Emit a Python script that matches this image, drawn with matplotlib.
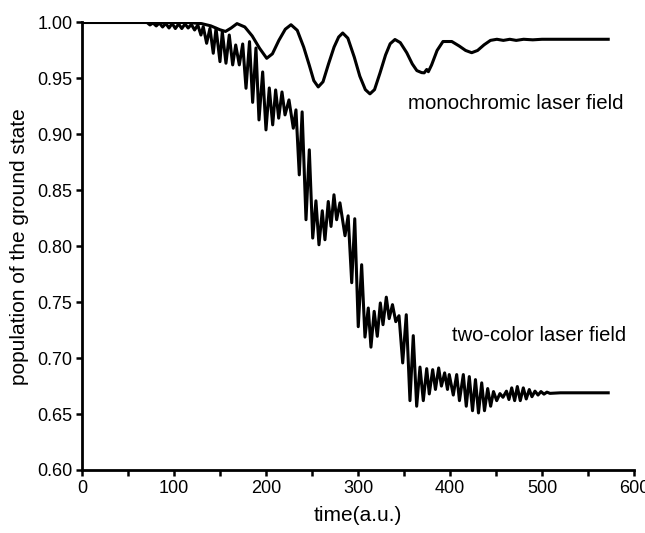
import numpy as np
import matplotlib
matplotlib.use("Agg")
import matplotlib.pyplot as plt
from matplotlib.ticker import MultipleLocator

plt.rcParams['font.family'] = ['Liberation Sans', 'DejaVu Sans']

# monochromic laser field (time a.u., population)
mono_t = [0, 115, 130, 140, 150, 156, 162, 168.5, 177, 185, 193, 200.8, 207, 214, 221, 227.2,
          234, 241, 247, 252, 256.8, 262, 268, 274, 279, 283.4, 289, 296, 302, 308, 313,
          318, 324, 330, 335, 340.2, 346, 353, 359, 364, 369.2, 372, 374.7, 376.5, 380, 386,
          392.4, 402, 410, 417, 423.6, 430, 437, 444, 451, 458, 465, 472, 480, 490, 500, 572]
mono_p = [1.0, 1.0, 0.999, 0.997, 0.9935, 0.992, 0.995, 0.999, 0.996, 0.988, 0.977, 0.968,
          0.972, 0.984, 0.994, 0.998, 0.993, 0.978, 0.962, 0.948, 0.9424, 0.947, 0.963, 0.978,
          0.987, 0.9906, 0.986, 0.969, 0.952, 0.940, 0.9362, 0.940, 0.955, 0.971, 0.981, 0.9848,
          0.982, 0.973, 0.963, 0.957, 0.9552, 0.955, 0.958, 0.956, 0.962, 0.975, 0.983, 0.983,
          0.979, 0.975, 0.973, 0.975, 0.980, 0.984, 0.985, 0.984, 0.985, 0.984, 0.985, 0.9845,
          0.985, 0.985]

# two-color laser field, peaks and troughs
tc_t = [0, 70.7, 73.9, 77.2, 80.7, 84.1, 87.6, 91.1, 94.6, 98.0, 101.5, 105.0, 108.5, 112.0,
        115.4, 118.9, 122.4, 125.9, 129.3, 131.8, 135.5, 139.1, 142.7, 145.7, 150.0, 152.5,
        156.5, 160.1, 163.8, 167.1, 171.0, 174.7, 178.3, 182.1, 185.5, 189.1, 192.4, 196.4,
        200.0, 203.6, 207.3, 210.5, 213.8, 217.4, 220.7, 225.0, 229.7, 232.6, 236.2, 239.3,
        243.5, 247.1, 250.8, 254.3, 257.6, 261.2, 264.1, 267.7, 270.7, 273.9, 276.8, 280.4,
        285.9, 289.3, 293.2, 296.5, 300.3, 304.0, 307.6, 311.2, 314.1, 317.6, 321.0, 324.3,
        327.2, 330.8, 333.9, 337.5, 341.1, 344.6, 348.6, 352.5, 356.5, 360.1, 363.8, 367.4,
        371.0, 374.7, 377.5, 381.2, 384.2, 387.7, 390.7, 394.2, 397.3, 399.2, 403.6, 407.3,
        410.3, 414.5, 417.7, 421.0, 424.5, 427.7, 431.0, 434.5, 437.5, 441.0, 444.2, 447.3,
        450.8, 454.3, 457.6, 461.4, 464.1, 467.1, 470.3, 473.2, 476.4, 479.7, 482.9, 486.2,
        489.1, 492.4, 495.7, 498.9, 502.2, 505.4, 508.7, 520, 572]
tc_p = [1.0, 1.0, 0.9978, 0.9996, 0.9969, 0.9996, 0.9960, 0.9991, 0.9951, 0.9991, 0.9946,
        0.9987, 0.9946, 0.9987, 0.9951, 0.9982, 0.9933, 0.9978, 0.9888, 0.9963, 0.9814,
        0.9948, 0.9725, 0.9948, 0.9650, 0.9918, 0.9636, 0.9888, 0.9621, 0.9799, 0.9621,
        0.9808, 0.9412, 0.9829, 0.9286, 0.9772, 0.9129, 0.9558, 0.9040, 0.9415, 0.9085,
        0.9397, 0.9145, 0.9379, 0.9174, 0.9308, 0.9055, 0.9219, 0.8638, 0.9201, 0.8237,
        0.8862, 0.8073, 0.8406, 0.8013, 0.8317, 0.8058, 0.8400, 0.8177, 0.8460, 0.8237,
        0.8388, 0.8094, 0.8272, 0.7674, 0.8246, 0.7281, 0.7835, 0.7188, 0.7448, 0.7098,
        0.7418, 0.7195, 0.7493, 0.7299, 0.7545, 0.7353, 0.7478, 0.7326, 0.7379, 0.6957,
        0.7388, 0.6620, 0.7201, 0.6570, 0.6920, 0.6620, 0.6906, 0.6680, 0.6897, 0.6720,
        0.6912, 0.6750, 0.6868, 0.6720, 0.6853, 0.6670, 0.6853, 0.6620, 0.6853, 0.6570,
        0.6835, 0.6530, 0.6808, 0.6510, 0.6779, 0.6530, 0.6728, 0.6570, 0.6701, 0.6620,
        0.6683, 0.6650, 0.6705, 0.6630, 0.6734, 0.6620, 0.6746, 0.6620, 0.6734, 0.6635,
        0.6719, 0.6655, 0.6705, 0.6670, 0.6701, 0.6678, 0.6696, 0.6685, 0.6690, 0.6690]

fig = plt.figure(figsize=(6.45, 5.33), dpi=100)
ax = fig.add_axes([0.1271, 0.1182, 0.8558, 0.8396])

ax.plot(mono_t, mono_p, color='black', lw=2.2)
ax.plot(tc_t, tc_p, color='black', lw=2.2)

ax.set_xlim(0, 600)
ax.set_ylim(0.60, 1.00)
ax.xaxis.set_major_locator(MultipleLocator(100))
ax.xaxis.set_minor_locator(MultipleLocator(50))
ax.yaxis.set_major_locator(MultipleLocator(0.05))
ax.yaxis.set_major_formatter(plt.FormatStrFormatter('%.2f'))

for s in ['top', 'right']:
    ax.spines[s].set_visible(False)
for s in ['left', 'bottom']:
    ax.spines[s].set_linewidth(2)

ax.tick_params(which='major', direction='out', length=4, width=1.8, labelsize=13, pad=3)
ax.tick_params(which='minor', direction='out', length=4, width=1.8)

ax.set_xlabel('time(a.u.)', fontsize=15, labelpad=7)
ax.set_ylabel('population of the ground state', fontsize=15, labelpad=6)

ax.text(354, 0.928, 'monochromic laser field', fontsize=14.7, ha='left', va='center')
ax.text(402, 0.720, 'two-color laser field', fontsize=14.5, ha='left', va='center')

fig.savefig('out.png', dpi=100)
